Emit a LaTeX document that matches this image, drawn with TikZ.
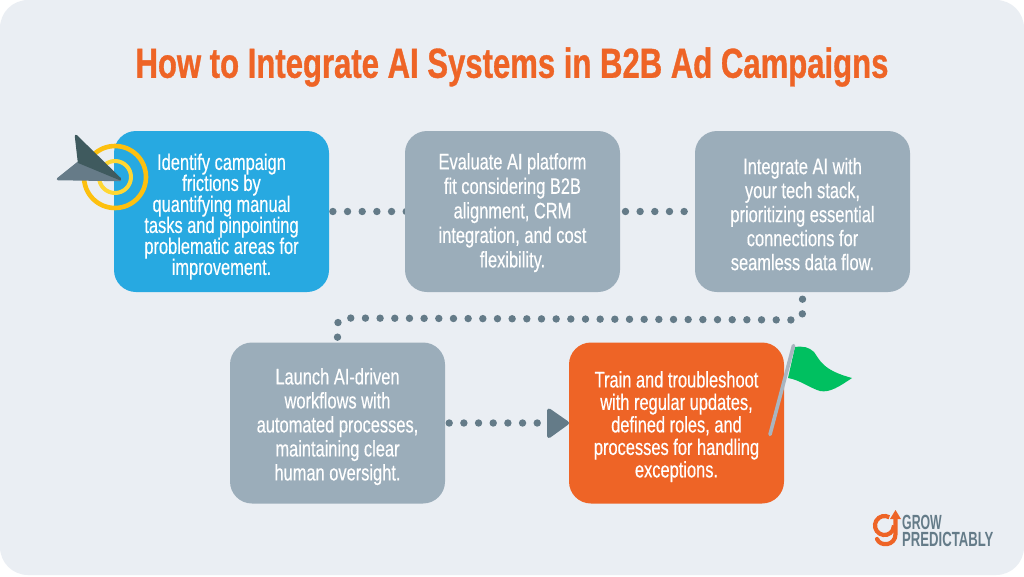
\documentclass[tikz,border=0pt]{standalone}
\usetikzlibrary{backgrounds}
\usepackage{fontspec}
\setmainfont[FakeStretch=0.73,FakeBold=0.4]{Liberation Sans}
\newfontfamily\titlefont[FakeStretch=0.74,FakeBold=0.8]{Liberation Sans}
\newfontfamily\logofont[FakeStretch=0.6]{Liberation Sans}
\newfontfamily\logofontb[FakeStretch=0.64]{Liberation Sans}
\newcommand{\liftline}[1]{\rule{0pt}{#1pt}}
\definecolor{pagebg}{HTML}{EAEEF3}
\definecolor{titleorange}{HTML}{EE6426}
\definecolor{stepblue}{HTML}{27A9E1}
\definecolor{stepgrey}{HTML}{9BADBA}
\definecolor{steporange}{HTML}{EE6426}
\definecolor{dotgrey}{HTML}{647B88}
\definecolor{ringgold}{HTML}{FDC00F}
\definecolor{ringlight}{HTML}{FFD733}
\definecolor{planedark}{HTML}{3F5A5E}
\definecolor{planegrey}{HTML}{667B88}
\definecolor{flaggreen}{HTML}{00C060}
\definecolor{polegrey}{HTML}{A9B5C0}
\tikzset{
  stepbox/.style={rounded corners=22pt,minimum width=215pt,minimum height=161pt,inner sep=0pt,
    align=center,text=white,font=\fontsize{22.5}{#1}\selectfont},
  dotline/.style={draw=dotgrey,line width=7.4pt,line cap=round,dash pattern=on 0pt off 14.67pt},
}
\begin{document}
\begin{tikzpicture}[x=1pt,y=-1pt]
\useasboundingbox (0,0) rectangle (1024,576);
\node[text=titleorange,font=\titlefont\bfseries\fontsize{42}{48}\selectfont,inner sep=0pt] (title) at (512,67) {How to Integrate AI Systems in B2B Ad Campaigns};
\node[stepbox=21,fill=stepblue] (s1) at (221.5,211.5) {\liftline{26.5}Identify campaign\\frictions by\\quantifying manual\\tasks and pinpointing\\problematic areas for\\improvement.};
\node[stepbox=24.5,fill=stepgrey] (s2) at (512.5,211.5) {\liftline{18.5}Evaluate AI platform\\fit considering B2B\\alignment, CRM\\integration, and cost\\flexibility.};
\node[stepbox=24,fill=stepgrey] (s3) at (802.5,211.5) {\liftline{21.5}Integrate AI with\\your tech stack,\\prioritizing essential\\connections for\\seamless data flow.};
\node[stepbox=24,fill=stepgrey] (s4) at (337.5,423) {\liftline{23.5}Launch AI-driven\\workflows with\\automated processes,\\maintaining clear\\human oversight.};
\node[stepbox=22.5,fill=steporange] (s5) at (676.5,423) {\liftline{23.5}Train and troubleshoot\\with regular updates,\\defined roles, and\\processes for handling\\exceptions.};
\coordinate (c1) at (802.5,320);
\coordinate (c2) at (337.5,318);
\coordinate (tipbase) at (547,423);
\begin{pgfonlayer}{background}
\fill[white] (0,0) rectangle (1024,576);
\fill[pagebg,rounded corners=28pt] (0,0) rectangle (1024,575);
\draw[dotline,dash phase=11pt] (s1.east) -- ([xshift=4pt]s2.west);
\draw[dotline,dash phase=9.4pt] (s2.east) -- (s3.west);
\draw[dotline,dash phase=7.67pt,rounded corners=7pt] (s3.south) -- (c1) -- (c2) -- (s4.north);
\draw[dotline,dash phase=10.67pt] (s4.east) -- (tipbase);
\end{pgfonlayer}
\fill[dotgrey,draw=dotgrey,line width=4pt,line join=round] (549,410.5) -- (567,423) -- (549,436) -- cycle;
% target
\draw[ringgold,line width=4.6pt] (115,177) circle (31pt);
\draw[ringlight,line width=4pt] (115,177) circle (16pt);
\fill[planegrey,draw=planegrey,line width=2.5pt,line join=round] (58,179) -- (78,163) -- (120,180) -- cycle;
\fill[planedark,draw=planedark,line width=2.5pt,line join=round] (76,136) -- (120,179) -- (79,162) -- cycle;
% flag
\fill[flaggreen] (795,347) .. controls (803,346) and (809,347) .. (814,352) .. controls (820,360) and (822,370) .. (852,378) .. controls (840,386) and (830,393) .. (820,391) .. controls (810,388) and (800,380) .. (788,378) -- cycle;
\draw[polegrey,line width=3.6pt,line cap=round] (793.5,345.5) -- (770,434.5);
% logo
\draw[titleorange,line width=4.2pt] (889.25,517.27) arc[start angle=60,end angle=360,radius=9.5pt];
\draw[titleorange,line width=4.2pt,line cap=round] (895.5,517) -- (895.5,534) .. controls (895.5,546) and (880,547) .. (877,539);
\fill[titleorange] (895.5,510) -- (901,519) -- (890,519) -- cycle;
\node[text=dotgrey,font=\logofont\bfseries\fontsize{20.5}{16.5}\selectfont,inner sep=0pt,anchor=base west] (logo1) at (902,529) {GROW};
\node[text=dotgrey,font=\logofontb\bfseries\fontsize{20.5}{16.5}\selectfont,inner sep=0pt,anchor=base west] (logo2) at (902,546) {PREDICTABLY};
\end{tikzpicture}
\end{document}
